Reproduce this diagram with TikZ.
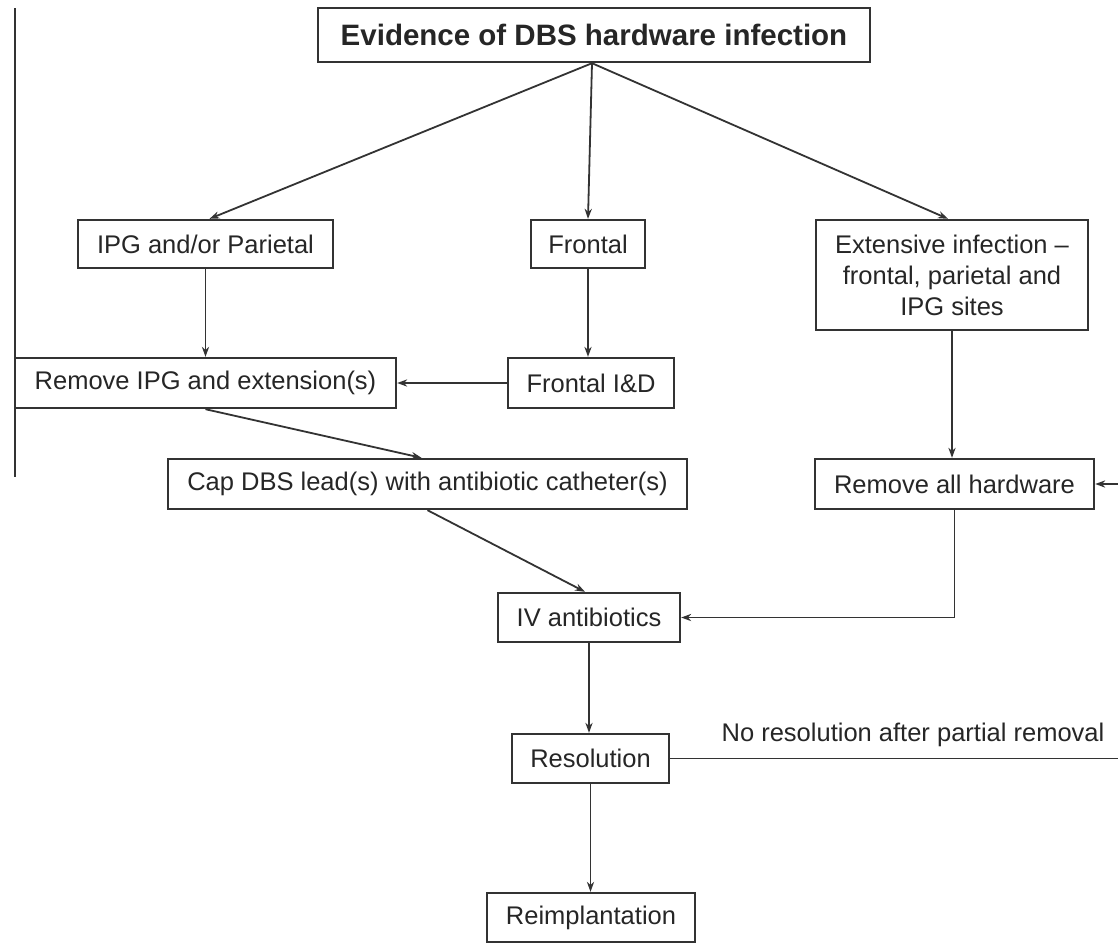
\documentclass[tikz,border=0pt]{standalone}
\usepackage{fontspec}
\setmainfont{Liberation Sans}
\usetikzlibrary{arrows.meta,calc}
\begin{document}
\begin{tikzpicture}[x=0.5pt,y=-0.5pt,
  box/.style={draw=black!80,line width=1.2pt,rectangle,inner sep=0pt,align=center,
    font=\fontsize{12.75pt}{15.5pt}\selectfont,text=black!85},
  conn/.style={draw=black!80,line width=0.9pt},
  arr/.style={conn,-{Stealth[length=5pt,width=3.6pt]}},
  lbl/.style={font=\fontsize{12.75pt}{15.5pt}\selectfont,text=black!85,inner sep=0pt}]
\useasboundingbox (0,0) rectangle (1118,943);
\fill[white] (0,0) rectangle (1118,943);

\node[box,minimum width=276pt,minimum height=27pt,font=\fontsize{14.75pt}{17pt}\selectfont\bfseries] (top) at (594,35) {Evidence of DBS hardware infection};
\node[box,minimum width=127.5pt,minimum height=24pt] (ipg) at (205.5,244) {IPG and/or Parietal};
\node[box,minimum width=57pt,minimum height=24pt] (frontal) at (588,244) {Frontal};
\node[box,minimum width=136pt,minimum height=55pt] (ext) at (952,275) {Extensive infection --\\frontal, parietal and\\IPG sites};
\node[box,minimum width=190.5pt,minimum height=25pt] (remipg) at (205.5,383) {Remove IPG and extension(s)};
\node[box,minimum width=83pt,minimum height=25pt] (fid) at (591,383) {Frontal I\&D};
\node[box,minimum width=259.5pt,minimum height=25pt] (cap) at (427.5,484) {Cap DBS lead(s) with antibiotic catheter(s)};
\node[box,minimum width=139.5pt,minimum height=25pt] (remall) at (954.5,484) {Remove all hardware};
\node[box,minimum width=91pt,minimum height=24.5pt] (iv) at (589,617.5) {IV antibiotics};
\node[box,minimum width=78.5pt,minimum height=24.5pt] (res) at (590.5,758.5) {Resolution};
\node[box,minimum width=104pt,minimum height=24.5pt] (reimp) at (591,917.5) {Reimplantation};
\node[lbl] (nores) at (913,735) {No resolution after partial removal};

\coordinate (leftTop) at (15,8);
\coordinate (leftBot) at (15,477);
\coordinate (inR) at (1118,484);
\coordinate (outR) at (1118,758.5);

\draw[conn] (leftTop) -- (leftBot);
\draw[arr] ($(top.south)+(-2,0)$) -- ($(ipg.north)+(4,0)$);
\draw[arr] ($(top.south)+(-2,0)$) -- (frontal.north);
\draw[arr] ($(top.south)+(-2,0)$) -- ($(ext.north)+(-4,0)$);
\draw[arr] (ipg.south) -- (remipg.north);
\draw[arr] (frontal.south) -- (frontal.south |- fid.north);
\draw[arr] (fid.west) -- (remipg.east);
\draw[arr] (remipg.south) -- ($(cap.north)+(-6,0)$);
\draw[arr] (cap.south) -- ($(iv.north)+(-4,0)$);
\draw[arr] (ext.south) -- (ext.south |- remall.north);
\draw[arr] (remall.south) |- (iv.east);
\draw[arr] (inR) -- (remall.east);
\draw[arr] (iv.south) -- (iv.south |- res.north);
\draw[arr] (res.south) -- (res.south |- reimp.north);
\draw[conn] (res.east) -- (outR);
\end{tikzpicture}
\end{document}
